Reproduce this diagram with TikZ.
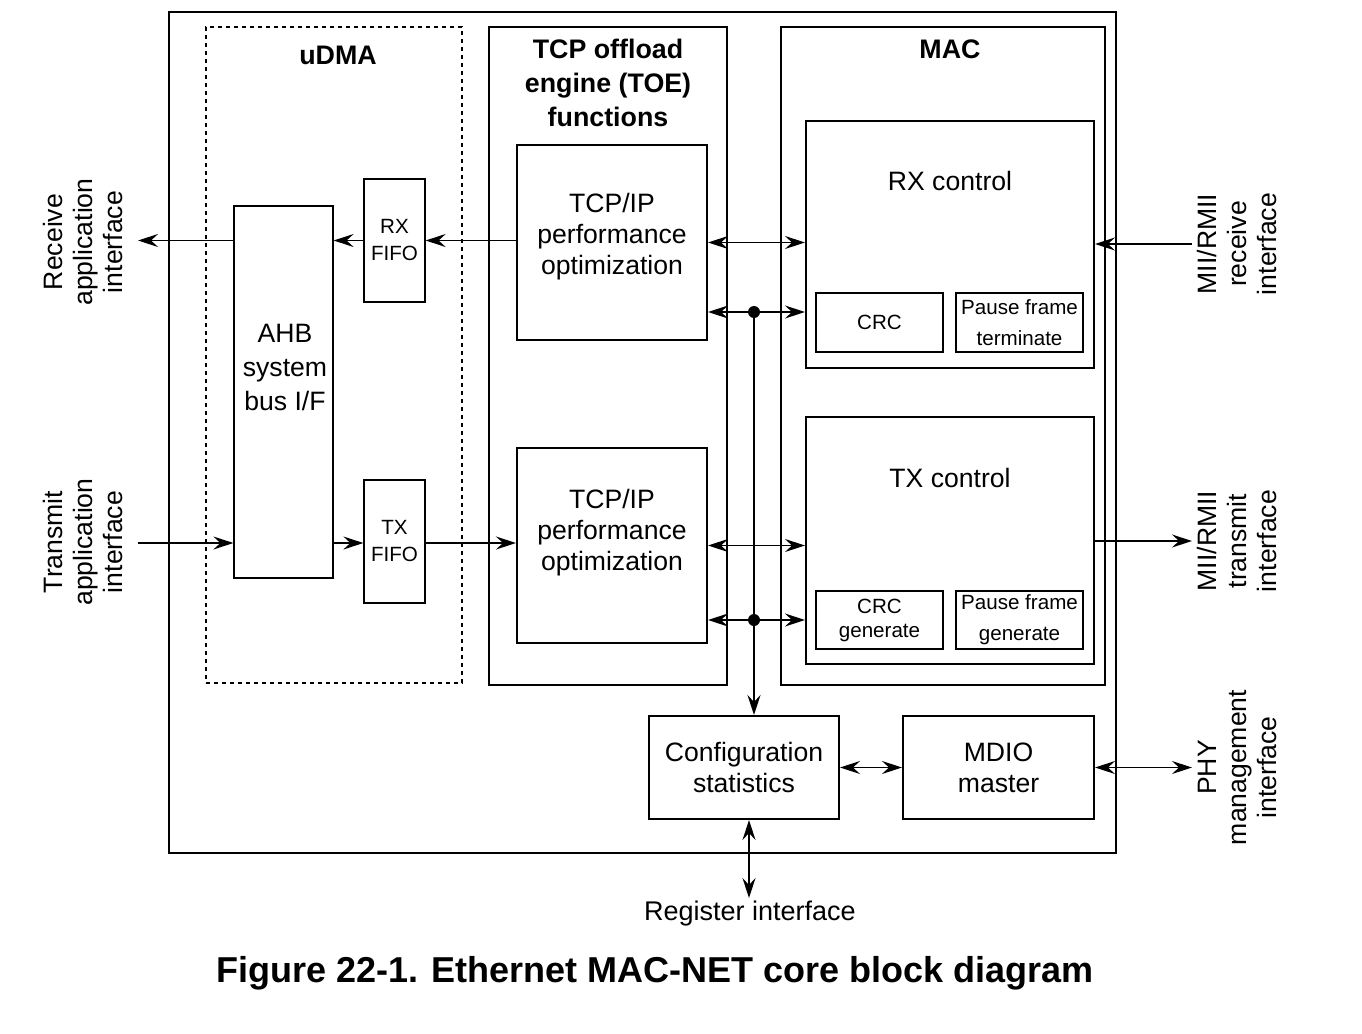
\documentclass[tikz,border=0pt]{standalone}
\usepackage{fontspec}
\setmainfont{Liberation Sans}
\usepackage{tikz}
\usetikzlibrary{arrows.meta,positioning,calc}

\begin{document}
\begin{tikzpicture}[
    x=0.5pt, y=-0.5pt,
    >={Stealth[length=10pt,width=6.5pt,inset=3.5pt]},
    every node/.style={font={\fontsize{13.3}{15.5}\selectfont}, inner sep=0pt, align=center},
    frame/.style={draw, line width=0.6pt, rectangle},
    udmagroup/.style={frame, dashed, dash pattern=on 2pt off 2pt},
    block/.style={draw, line width=1pt, rectangle},
    fifo/.style={frame, minimum width=30.5pt, minimum height=61.5pt, font={\fontsize{10.3}{13.5}\selectfont}},
    subblock/.style={block, minimum width=63.5pt, font={\fontsize{10.3}{15.5}\selectfont}},
    title/.style={font={\fontsize{13.4}{17}\selectfont\bfseries}},
    side/.style={rotate=90, font={\fontsize{13.3}{15}\selectfont}},
    conn/.style={line width=0.75pt},
    bus/.style={line width=1pt},
    dot/.style={circle, fill, minimum size=6pt}
    ]

    \useasboundingbox (0,0) rectangle (1362,1034);

    % outer frame and groups
    \node [frame, minimum width=473.5pt, minimum height=420.5pt] (core) at (642.5,432.5) {};
    \node [udmagroup, minimum width=128pt, minimum height=328pt] (udma) at (334,355) {};
    \node [frame, minimum width=119pt, minimum height=329pt] (toe) at (608,356) {};
    \node [frame, minimum width=162pt, minimum height=329pt] (mac) at (943,356) {};

    \node [title] (udmaname) at (338,55) {uDMA};
    \node [title] (toename) at (608,83) {TCP offload\\engine (TOE)\\functions};
    \node [title] (macname) at (950,49) {MAC};

    % uDMA
    \node [frame, minimum width=49.5pt, minimum height=186pt] (ahb) at (283.5,392) {};
    \node [font={\fontsize{13.3}{17}\selectfont}] (ahbname) at (285,367) {AHB\\system\\bus I/F};
    \node [fifo] (rxfifo) at (394.5,240.5) {RX\\FIFO};
    \node [fifo] (txfifo) at (394.5,541.5) {TX\\FIFO};

    % TOE
    \node [block, minimum width=95pt, minimum height=97.5pt] (tcprx) at (612,242.5) {};
    \node (tcprxname) at (612,237) {TCP/IP\\performance\\optimization};
    \node [block, minimum width=95pt, minimum height=97.5pt] (tcptx) at (612,545.5) {};
    \node (tcptxname) at (612,533) {TCP/IP\\performance\\optimization};

    % MAC
    \node [block, minimum width=144pt, minimum height=123.5pt] (rxctl) at (950,244.5) {};
    \node (rxname) at (950,181) {RX control};
    \node [subblock, minimum height=29.5pt] (rxcrc) at (879.5,322.5) {CRC};
    \node [subblock, minimum height=29.5pt] (rxpause) at (1019.5,322.5) {Pause frame\\terminate};

    \node [block, minimum width=144pt, minimum height=123.5pt] (txctl) at (950,540.5) {};
    \node (txname) at (950,478) {TX control};
    \node [subblock, minimum height=29pt, font={\fontsize{10.3}{12}\selectfont}] (txcrc) at (879.5,620) {CRC\\generate};
    \node [subblock, minimum height=29pt] (txpause) at (1019.5,620) {Pause frame\\generate};

    % configuration and MDIO
    \node [block, minimum width=95pt, minimum height=51.5pt] (cfg) at (744,767.5) {Configuration\\statistics};
    \node [block, minimum width=95.5pt, minimum height=51.5pt] (mdio) at (998.5,767.5) {MDIO\\master};

    % outside labels
    \node [side] (rxapp) at (83,242) {Receive\\application\\interface};
    \node [side] (txapp) at (83,542) {Transmit\\application\\interface};
    \node [side] (miirx) at (1237,244) {MII/RMII\\receive\\interface};
    \node [side] (miitx) at (1237,541) {MII/RMII\\transmit\\interface};
    \node [side] (phy) at (1237,767.5) {PHY\\management\\interface};
    \node [font={\fontsize{13.5}{15.5}\selectfont}] (reg) at (750,914) {Register interface};
    \node [font={\fontsize{18}{21}\selectfont\bfseries}] (caption) at (655,973) {Figure 22-1. Ethernet MAC-NET core block diagram};

    \coordinate (rxout) at (138,240.5);
    \coordinate (txin) at (138,543);
    \coordinate (miirxin) at (1192,244);
    \coordinate (miitxout) at (1192,541);
    \coordinate (phyio) at (1192,767.5);
    \coordinate (regio) at (749,898);
    \coordinate (bus1) at (754,312);
    \coordinate (bus2) at (754,620);

    % receive path
    \draw [conn,->] (tcprx.west |- rxfifo.east) -- (rxfifo.east);
    \draw [conn,->] (rxfifo.west) -- (rxfifo.west -| ahb.east);
    \draw [conn,->] (rxout -| ahb.west) -- (rxout);
    % transmit path
    \draw [conn,->] (txin) -- (txin -| ahb.west);
    \draw [conn,->] (txin -| ahb.east) -- (txin -| txfifo.west);
    \draw [conn,->] (txin -| txfifo.east) -- (txin -| tcptx.west);
    % TOE to MAC
    \draw [conn,<->] (tcprx.east) -- (tcprx.east -| rxctl.west);
    \draw [conn,<->] (bus1 -| tcprx.east) -- (bus1 -| rxctl.west);
    \draw [conn,<->] (tcptx.east) -- (tcptx.east -| txctl.west);
    \draw [conn,<->] (bus2 -| tcptx.east) -- (bus2 -| txctl.west);
    \node [dot] (bus1dot) at (bus1) {};
    \node [dot] (bus2dot) at (bus2) {};
    \draw [bus,->] (bus1) -- (bus1 |- cfg.north);
    % MII and management
    \draw [conn,->] (miirxin) -- (miirxin -| rxctl.east);
    \draw [conn,->] (miitxout -| txctl.east) -- (miitxout);
    \draw [conn,<->] (cfg.east) -- (mdio.west);
    \draw [conn,<->] (mdio.east) -- (phyio);
    \draw [conn,<->] (regio |- cfg.south) -- (regio);
\end{tikzpicture}
\end{document}
